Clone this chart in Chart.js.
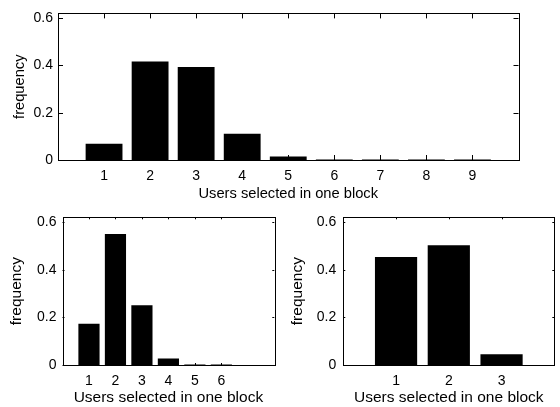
<!DOCTYPE html>
<html>
<head>
<meta charset="utf-8">
<script src="https://cdn.jsdelivr.net/npm/chart.js@4"></script>
<style>
  html, body { margin: 0; padding: 0; background: #fff; }
  .box { position: absolute; }
</style>
</head>
<body>
<div class="box" style="left:0;top:0;width:560px;height:200px"><canvas id="topChart"></canvas></div>
<div class="box" style="left:0;top:200px;width:280px;height:207px"><canvas id="leftChart"></canvas></div>
<div class="box" style="left:280px;top:200px;width:280px;height:207px"><canvas id="rightChart"></canvas></div>
<script>
// ---------------- Data ----------------
const topUsers = [1, 2, 3, 4, 5, 6, 7, 8, 9];
const topFreq = [0.069, 0.417, 0.393, 0.111, 0.015, 0.002, 0.002, 0.002, 0.002];

const leftUsers = [1, 2, 3, 4, 5, 6];
const leftFreq = [0.173, 0.55, 0.251, 0.027, 0.002, 0.002];

const rightUsers = [1, 2, 3];
const rightFreq = [0.453, 0.503, 0.045];

const yTicks = [0, 0.2, 0.4, 0.6];
const yMax = 0.62;

const xLabel = "Users selected in one block";
const yLabel = "frequency";

const FONT = "'Liberation Sans', Arial, Helvetica, sans-serif";

// ---------------- Helpers ----------------
// MATLAB style frame: full box, ticks pointing inwards on all four sides
const boxPlugin = {
  id: "box",
  afterDraw(chart) {
    const { ctx, chartArea: a, scales } = chart;
    const len = Math.max(2, Math.round(0.01 * Math.max(a.right - a.left, a.bottom - a.top)));
    ctx.save();
    ctx.strokeStyle = "#000";
    ctx.lineWidth = 1;
    ctx.beginPath();
    scales.x.ticks.forEach(t => {
      const x = Math.round(scales.x.getPixelForValue(t.value)) + 0.5;
      ctx.moveTo(x, a.bottom); ctx.lineTo(x, a.bottom - len);
      ctx.moveTo(x, a.top); ctx.lineTo(x, a.top + len);
    });
    scales.y.ticks.forEach(t => {
      const y = Math.round(scales.y.getPixelForValue(t.value)) + 0.5;
      ctx.moveTo(a.left, y); ctx.lineTo(a.left + len, y);
      ctx.moveTo(a.right, y); ctx.lineTo(a.right - len, y);
    });
    ctx.stroke();
    ctx.strokeRect(Math.round(a.left) + 0.5, Math.round(a.top) + 0.5,
      Math.round(a.right - a.left), Math.round(a.bottom - a.top));
    ctx.restore();
  }
};

function makeChart(id, users, freq, xMax, lay) {
  const ctx = document.getElementById(id);
  return new Chart(ctx, {
    type: "bar",
    data: {
      datasets: [{
        data: users.map((u, i) => ({ x: u, y: freq[i] })),
        backgroundColor: "#000",
        borderWidth: 0,
        barPercentage: 0.8,
        categoryPercentage: 1
      }]
    },
    options: {
      responsive: true,
      maintainAspectRatio: false,
      animation: false,
      layout: { padding: { left: 0, right: lay.right, top: lay.top, bottom: 0 } },
      plugins: { legend: { display: false }, tooltip: { enabled: false } },
      scales: {
        x: {
          type: "linear",
          offset: false,
          min: 0,
          max: xMax,
          afterBuildTicks: s => { s.ticks = users.map(v => ({ value: v })); },
          afterFit: s => { s.height = lay.xh; },
          grid: { display: false, drawTicks: false, offset: false },
          border: { display: false },
          ticks: {
            color: "#000",
            padding: lay.tickPad,
            maxRotation: 0,
            font: { family: FONT, size: 14 },
            callback: v => String(v)
          },
          title: {
            display: true,
            text: xLabel,
            color: "#000",
            font: { family: FONT, size: lay.titleSize, lineHeight: 1 },
            padding: { top: 0, bottom: lay.xTitlePad }
          }
        },
        y: {
          min: 0,
          max: yMax,
          afterBuildTicks: s => { s.ticks = yTicks.map(v => ({ value: v })); },
          afterFit: s => { s.width = lay.left; },
          grid: { display: false, drawTicks: false },
          border: { display: false },
          ticks: {
            color: "#000",
            padding: lay.yTickPad,
            font: { family: FONT, size: 14 },
            callback: v => v === 0 ? "0" : v.toFixed(1)
          },
          title: {
            display: true,
            text: yLabel,
            color: "#000",
            font: { family: FONT, size: lay.titleSize, lineHeight: 1 },
            padding: { top: lay.yTitlePad, bottom: 0 }
          }
        }
      }
    },
    plugins: [boxPlugin]
  });
}

// ---------------- Init ----------------
makeChart("topChart", topUsers, topFreq, 10,
  { left: 58, right: 41.5, top: 12.5, xh: 40, tickPad: 8, yTickPad: 5, titleSize: 14.7, xTitlePad: -1.5, yTitlePad: 12.5 });
makeChart("leftChart", leftUsers, leftFreq, 8,
  { left: 62.5, right: 5.7, top: 17.3, xh: 42, tickPad: 8, yTickPad: 6, titleSize: 15.5, xTitlePad: 1.5, yTitlePad: 8.5 });
makeChart("rightChart", rightUsers, rightFreq, 4,
  { left: 63.3, right: 5.7, top: 17.3, xh: 42, tickPad: 8, yTickPad: 7, titleSize: 15.5, xTitlePad: 1.5, yTitlePad: 9.5 });
</script>
</body>
</html>
